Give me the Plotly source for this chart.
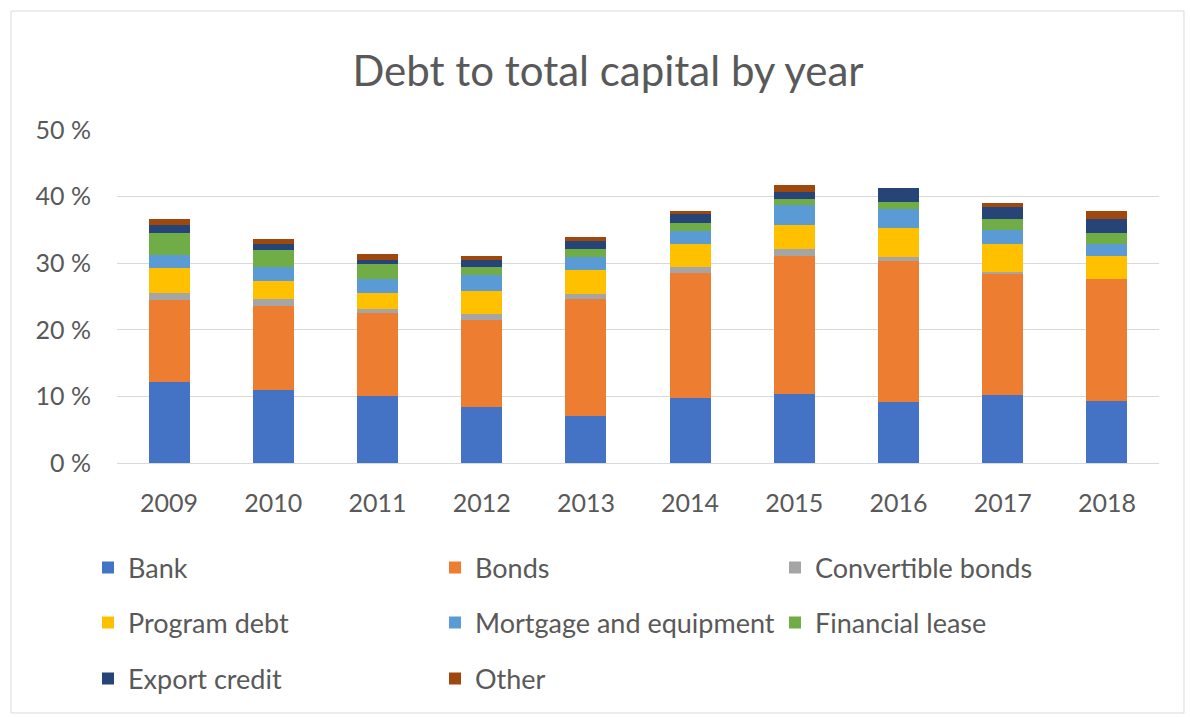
import plotly.graph_objects as go

# Debt to total capital, % of total capital, by source of debt
years = ["2009", "2010", "2011", "2012", "2013", "2014", "2015", "2016", "2017", "2018"]

bank = [12.2, 11.0, 10.0, 8.4, 7.1, 9.7, 10.3, 9.1, 10.2, 9.3]
bonds = [12.3, 12.5, 12.5, 13.1, 17.5, 18.8, 20.8, 21.3, 18.3, 18.4]
convertible_bonds = [1.0, 1.1, 0.6, 0.8, 0.8, 0.9, 1.1, 0.6, 0.2, 0.0]
program_debt = [3.8, 2.8, 2.4, 3.6, 3.6, 3.5, 3.6, 4.3, 4.2, 3.4]
mortgage_equipment = [2.0, 2.1, 2.2, 2.3, 1.9, 2.0, 3.0, 2.8, 2.1, 1.8]
financial_lease = [3.2, 2.5, 2.2, 1.3, 1.3, 1.2, 0.9, 1.1, 1.7, 1.6]
export_credit = [1.2, 0.9, 0.6, 1.0, 1.1, 1.3, 1.0, 2.1, 1.8, 2.1]
other = [1.0, 0.7, 0.9, 0.6, 0.6, 0.5, 1.0, 0.0, 0.6, 1.3]

series_names = ["Bank", "Bonds", "Convertible bonds", "Program debt",
                "Mortgage and equipment", "Financial lease", "Export credit", "Other"]
series_values = [bank, bonds, convertible_bonds, program_debt,
                 mortgage_equipment, financial_lease, export_credit, other]
series_colors = ["#4472C4", "#ED7D31", "#A5A5A5", "#FFC000",
                 "#5B9BD5", "#70AD47", "#264478", "#9E480E"]

y_ticks = [0, 10, 20, 30, 40, 50]
y_tick_labels = ["0 %", "10 %", "20 %", "30 %", "40 %", "50 %"]

# Canvas and plot-area geometry (pixels)
W, H = 1190, 717
PL, PR = 117, 1159          # plot area left / right
PT, PB = 130, 463           # plot area top / bottom
plot_w, plot_h = PR - PL, PB - PT

FONT = "Lato"
TXT = "#595959"
GRID = "#d9d9d9"

# Legend grid: three columns, rows filled left to right
legend_cols = [103, 450, 790]
legend_rows = [568, 623, 679]
SYMBOL_OFFSET = 15  # distance from legend box edge to symbol's left edge

fig = go.Figure()
legend_layout = {}
for i, (name, vals, col) in enumerate(zip(series_names, series_values, series_colors)):
    key = "legend" if i == 0 else f"legend{i + 1}"
    fig.add_trace(go.Bar(
        x=years, y=vals, name=name,
        marker=dict(color=col, line=dict(width=0)),
        legend=key,
        hovertemplate=name + " %{x}: %{y:.1f} %<extra></extra>",
    ))
    cx = legend_cols[i % 3]
    cy = legend_rows[i // 3]
    legend_layout[key] = dict(
        x=(cx - SYMBOL_OFFSET - PL) / plot_w,
        y=(PB - cy) / plot_h,
        xanchor="left", yanchor="middle",
        orientation="h",
        bgcolor="rgba(0,0,0,0)",
        borderwidth=0,
        font=dict(family=FONT, size=27, color=TXT),
        itemclick=False, itemdoubleclick=False,
    )

fig.update_layout(
    width=W, height=H,
    margin=dict(l=PL, r=W - PR, t=PT, b=H - PB, pad=0),
    paper_bgcolor="white",
    plot_bgcolor="white",
    barmode="stack",
    bargap=0.607,
    showlegend=True,
    font=dict(family=FONT, color=TXT),
    title=dict(
        text="Debt to total capital by year",
        font=dict(family=FONT, size=42, color=TXT),
        x=608 / W, xanchor="center",
        y=1 - 71 / H, yanchor="middle",
        xref="container", yref="container",
    ),
    xaxis=dict(
        showgrid=False, showline=False, zeroline=False,
        ticks="", ticklabelstandoff=23,
        tickfont=dict(family=FONT, size=25, color=TXT),
    ),
    yaxis=dict(
        range=[0, 50], tickmode="array",
        tickvals=y_ticks, ticktext=y_tick_labels,
        showgrid=True, gridcolor=GRID, gridwidth=1,
        zeroline=True, zerolinecolor=GRID, zerolinewidth=1,
        showline=False, ticks="", ticklabelstandoff=25,
        tickfont=dict(family=FONT, size=25, color=TXT),
    ),
    shapes=[dict(
        type="rect", xref="paper", yref="paper",
        x0=(11 - PL) / plot_w, x1=(1184 - PL) / plot_w,
        y0=(PB - 713) / plot_h, y1=(PB - 11) / plot_h,
        line=dict(color=GRID, width=1), fillcolor="rgba(0,0,0,0)",
        layer="below",
    )],
    **legend_layout,
)

fig.write_html("out.html")
